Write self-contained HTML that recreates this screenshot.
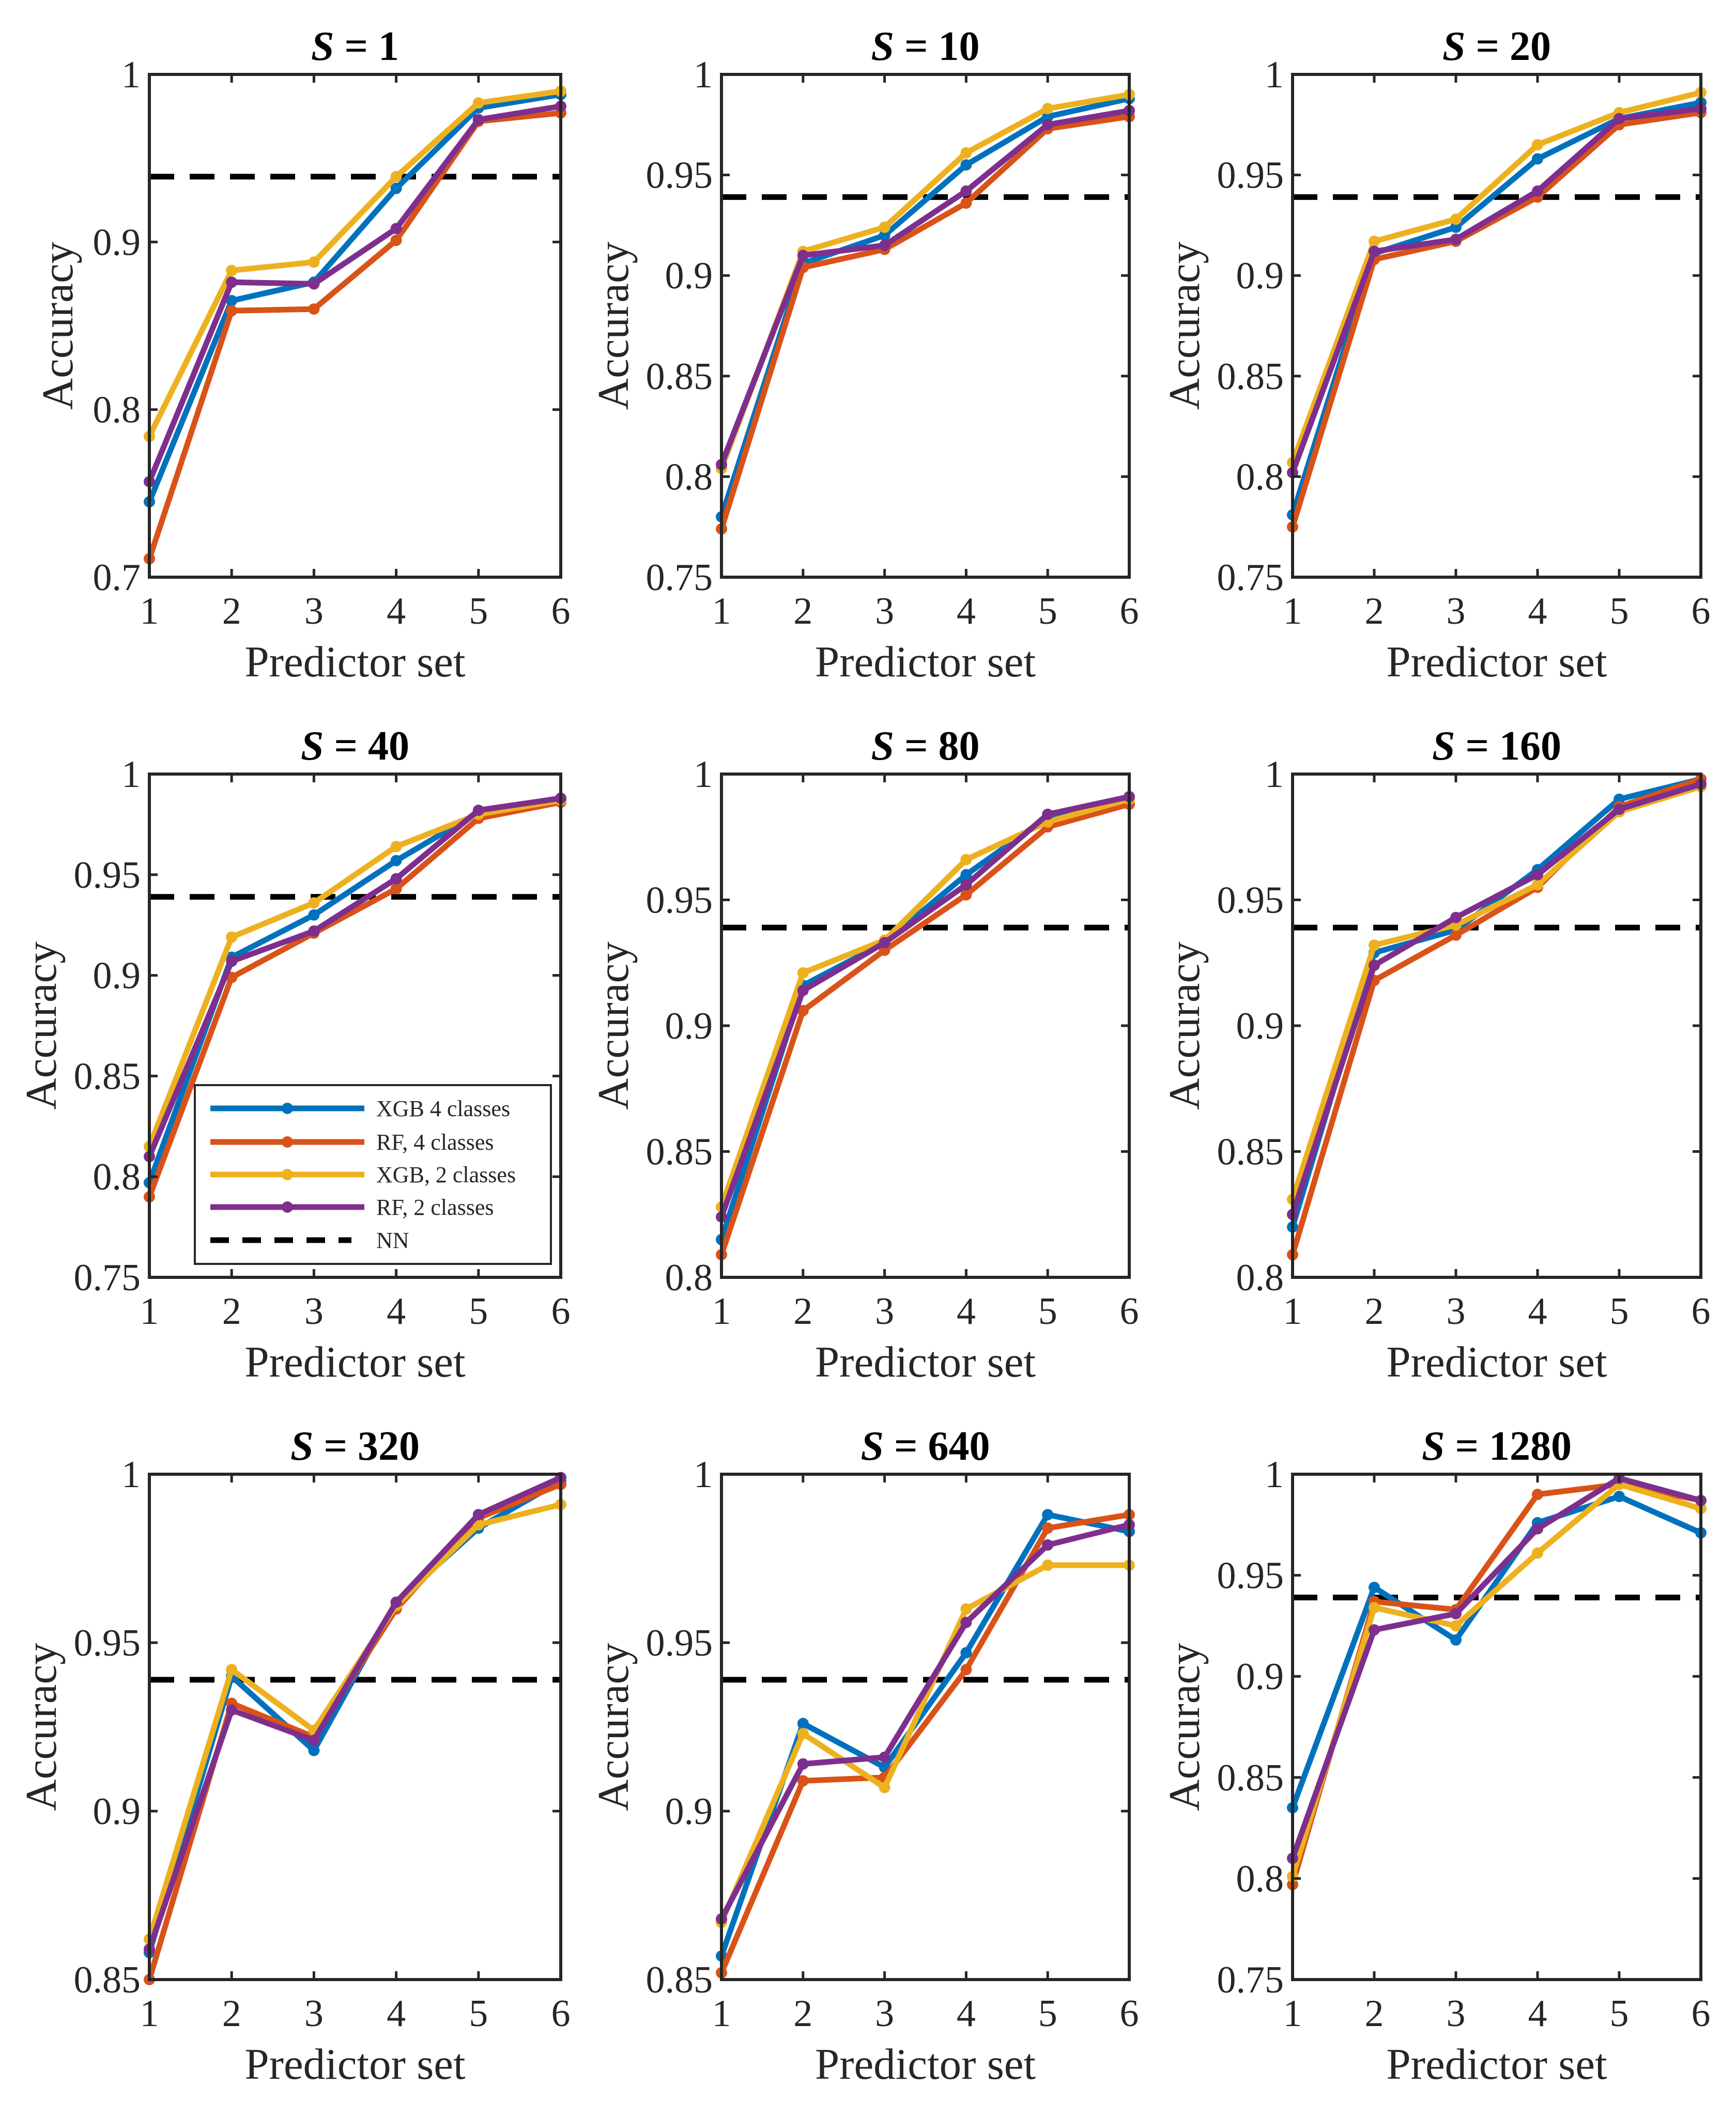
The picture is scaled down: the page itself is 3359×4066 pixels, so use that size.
<!DOCTYPE html>
<html><head><meta charset="utf-8"><style>
html,body{margin:0;padding:0;background:#fff;}
svg{display:block;}
text{font-family:"Liberation Serif","Times New Roman",serif;fill:#262626;}
</style></head>
<body>
<svg id="chart" xmlns="http://www.w3.org/2000/svg" width="3359" height="4066" viewBox="0 0 3359 4066"></svg>
<script>
const categories = [1, 2, 3, 4, 5, 6];
const sValues = ["1", "10", "20", "40", "80", "160", "320", "640", "1280"];
const yMin = [0.7, 0.75, 0.75, 0.75, 0.8, 0.8, 0.85, 0.85, 0.75];
const yMax = [1, 1, 1, 1, 1, 1, 1, 1, 1];
const yTickLabels = [
  ["0.7","0.8","0.9","1"],
  ["0.75","0.8","0.85","0.9","0.95","1"],
  ["0.75","0.8","0.85","0.9","0.95","1"],
  ["0.75","0.8","0.85","0.9","0.95","1"],
  ["0.8","0.85","0.9","0.95","1"],
  ["0.8","0.85","0.9","0.95","1"],
  ["0.85","0.9","0.95","1"],
  ["0.85","0.9","0.95","1"],
  ["0.75","0.8","0.85","0.9","0.95","1"]
];
const xgb4 = [
  [0.745,0.865,0.876,0.932,0.980,0.988],
  [0.780,0.906,0.920,0.955,0.979,0.988],
  [0.781,0.911,0.924,0.958,0.978,0.986],
  [0.797,0.909,0.930,0.957,0.981,0.988],
  [0.815,0.916,0.933,0.960,0.983,0.991],
  [0.820,0.929,0.938,0.962,0.990,0.998],
  [0.858,0.940,0.918,0.962,0.984,0.998],
  [0.857,0.926,0.913,0.947,0.988,0.983],
  [0.835,0.944,0.918,0.976,0.989,0.971]
];
const rf4 = [
  [0.711,0.859,0.860,0.901,0.972,0.977],
  [0.774,0.904,0.913,0.936,0.973,0.979],
  [0.775,0.908,0.917,0.939,0.975,0.981],
  [0.790,0.899,0.921,0.943,0.978,0.986],
  [0.809,0.906,0.930,0.952,0.979,0.988],
  [0.809,0.918,0.936,0.955,0.987,0.998],
  [0.850,0.932,0.922,0.960,0.987,0.997],
  [0.852,0.909,0.910,0.942,0.984,0.988],
  [0.797,0.937,0.933,0.990,0.995,0.987]
];
const xgb2 = [
  [0.784,0.883,0.888,0.939,0.983,0.990],
  [0.804,0.912,0.924,0.961,0.983,0.990],
  [0.807,0.917,0.928,0.965,0.981,0.991],
  [0.815,0.919,0.936,0.964,0.980,0.987],
  [0.828,0.921,0.934,0.966,0.981,0.990],
  [0.831,0.932,0.940,0.956,0.985,0.995],
  [0.862,0.942,0.924,0.961,0.985,0.991],
  [0.867,0.923,0.907,0.960,0.973,0.973],
  [0.801,0.934,0.925,0.961,0.995,0.983]
];
const rf2 = [
  [0.757,0.876,0.875,0.908,0.973,0.981],
  [0.806,0.910,0.915,0.942,0.975,0.982],
  [0.802,0.912,0.918,0.942,0.978,0.983],
  [0.810,0.907,0.922,0.948,0.982,0.988],
  [0.824,0.914,0.933,0.956,0.984,0.991],
  [0.825,0.924,0.943,0.960,0.986,0.996],
  [0.859,0.930,0.921,0.962,0.988,0.999],
  [0.868,0.914,0.916,0.956,0.979,0.985],
  [0.810,0.923,0.931,0.973,0.998,0.987]
];
const nnValue = [0.939,0.939,0.939,0.939,0.939,0.939,0.939,0.939,0.939];
const seriesNames = ["XGB 4 classes","RF, 4 classes","XGB, 2 classes","RF, 2 classes"];

const NS = "http://www.w3.org/2000/svg";
const svg = document.getElementById('chart');
const colors = ["#0072BD","#D95319","#EDB120","#7E2F8E"];
const seriesData = [xgb4, rf4, xgb2, rf2];
const colX = [[289,1085],[1396,2185],[2501,3291]];
const rowY = [[144,1117],[1498,2472],[2853,3831]];
function mk(tag, attrs, parent){const e=document.createElementNS(NS,tag);for(const k in attrs)e.setAttribute(k,attrs[k]);(parent||svg).appendChild(e);return e;}

for(let p=0;p<9;p++){
  const [x0,x1]=colX[p%3], [y0,y1]=rowY[Math.floor(p/3)];
  const g=mk('g',{});
  
  
  const xs=c=>x0+(c-1)/5*(x1-x0);
  const ys=v=>y1-(v-yMin[p])/(yMax[p]-yMin[p])*(y1-y0);
  const nn=mk('line',{x1:x0,x2:x1,y1:ys(nnValue[p]),y2:ys(nnValue[p]),stroke:'#000','stroke-width':11,'stroke-dasharray':'48 30'},g);
  
  
  for(let s=0;s<4;s++){
    const d=seriesData[s][p];
    const pts=categories.map((c,i)=>xs(c)+','+ys(d[i])).join(' ');
    const pl=mk('polyline',{points:pts,fill:'none',stroke:colors[s],'stroke-width':11,'stroke-linejoin':'round'},g);
    
    
    categories.forEach((c,i)=>{
      const m=mk('circle',{cx:xs(c),cy:ys(d[i]),r:11,fill:colors[s]},g);
      
      
    });
  }
  const fr=mk('rect',{x:x0,y:y0,width:x1-x0,height:y1-y0,fill:'none',stroke:'#262626','stroke-width':6},g);
  
  
  categories.forEach(c=>{
    const X=xs(c);
    mk('line',{x1:X,x2:X,y1:y1,y2:y1-16,stroke:'#262626','stroke-width':5},g);
    mk('line',{x1:X,x2:X,y1:y0,y2:y0+16,stroke:'#262626','stroke-width':5},g);
    const t=mk('text',{x:X,y:y1+90,'text-anchor':'middle','font-size':74},g);
    t.textContent=c;
    
    
  });
  yTickLabels[p].forEach(lbl=>{
    const Y=ys(parseFloat(lbl));
    mk('line',{x1:x0,x2:x0+16,y1:Y,y2:Y,stroke:'#262626','stroke-width':5},g);
    mk('line',{x1:x1,x2:x1-16,y1:Y,y2:Y,stroke:'#262626','stroke-width':5},g);
    const t=mk('text',{x:x0-17,y:Y+25,'text-anchor':'end','font-size':74},g);
    t.textContent=lbl;
    
    
  });
  const xl=mk('text',{x:(x0+x1)/2,y:y1+192,'text-anchor':'middle','font-size':85},g);
  xl.textContent='Predictor set';
  
  
  const off = yTickLabels[p].some(l=>l.length>3)?181:149;
  const yc=(y0+y1)/2, yx=x0-off;
  const yl=mk('text',{x:yx,y:yc,'text-anchor':'middle','font-size':85,transform:'rotate(-90 '+yx+' '+yc+')'},g);
  yl.textContent='Accuracy';
  
  
  const tt=mk('text',{x:(x0+x1)/2,y:y0-28,'text-anchor':'middle','font-size':80,'font-weight':'bold',style:'fill:#000'},g);
  
  
  const ts=mk('tspan',{'font-style':'italic'},tt); ts.textContent='S';
  const tr=mk('tspan',{},tt); tr.textContent=' = '+sValues[p];
}

const lg=mk('g',{});


mk('rect',{x:377,y:2100,width:689,height:346,fill:'#fff',stroke:'#262626','stroke-width':4},lg);
const legY=[2145,2210,2273,2336,2400];
for(let s=0;s<5;s++){
  const e=mk('g',{},lg);
  
  
  if(s<4){
    mk('line',{x1:407,x2:705,y1:legY[s],y2:legY[s],stroke:colors[s],'stroke-width':11},e);
    mk('circle',{cx:556,cy:legY[s],r:11,fill:colors[s]},e);
  } else {
    mk('line',{x1:407,x2:680,y1:legY[s],y2:legY[s],stroke:'#000','stroke-width':11,'stroke-dasharray':'36 26'},e);
  }
  const t=mk('text',{x:728,y:legY[s]+15,'font-size':44},e);
  t.textContent = s<4?seriesNames[s]:'NN';
}
</script>
</body></html>
